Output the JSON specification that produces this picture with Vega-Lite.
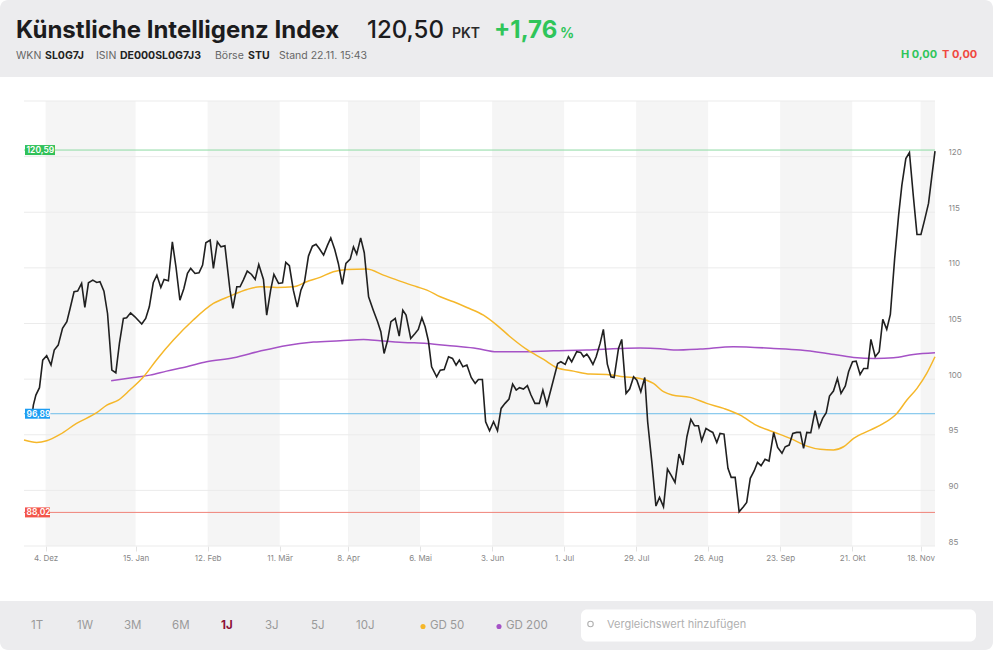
{
  "$schema": "https://vega.github.io/schema/vega-lite/v6.json",
  "width": 911,
  "height": 445,
  "autosize": {"type": "none"},
  "padding": {"left": 24, "top": 101, "right": 65, "bottom": 110},
  "background": "#ffffff",
  "config": {"view": {"stroke": null}, "font": "Inter", "text": {"font": "Inter"}},
  "datasets": {
    "bands": [{"i": 6, "i2": 31}, {"i": 51, "i2": 71}, {"i": 90, "i2": 110}, {"i": 130, "i2": 150}, {"i": 170, "i2": 190}, {"i": 210, "i2": 230}, {"i": 249, "i2": 253}],
    "grid": [{"g": 85}, {"g": 90}, {"g": 95}, {"g": 100}, {"g": 105}, {"g": 110}, {"g": 115}, {"g": 120}, {"g": 125}],
    "refs": [{"kind": "high", "v": 120.59, "label": "120,59"}, {"kind": "start", "v": 96.89, "label": "96,89"}, {"kind": "low", "v": 88.02, "label": "88,02"}],
    "price": [
      {"i":2.3,"v":96.89},{"i":2.6,"v":97.67},{"i":3.3,"v":98.57},{"i":4.3,"v":99.23},{"i":5.2,"v":101.71},{"i":6.3,"v":102.10},{"i":7.5,"v":101.26},{"i":8.4,"v":102.61},{"i":9.5,"v":103.06},{"i":10.7,"v":104.56},
      {"i":11.9,"v":105.16},{"i":12.8,"v":106.35},{"i":13.9,"v":107.85},{"i":14.9,"v":107.91},{"i":16.0,"v":108.60},{"i":16.9,"v":106.44},{"i":17.9,"v":108.66},{"i":19.1,"v":108.90},{"i":20.2,"v":108.69},{"i":21.1,"v":108.75},
      {"i":22.2,"v":107.91},{"i":23.2,"v":105.90},{"i":24.4,"v":100.81},{"i":25.5,"v":100.57},{"i":26.5,"v":103.21},{"i":27.6,"v":105.45},{"i":28.5,"v":105.51},{"i":29.6,"v":105.96},{"i":30.8,"v":105.60},{"i":32.7,"v":104.95},
      {"i":33.8,"v":105.45},{"i":34.8,"v":106.50},{"i":35.9,"v":108.66},{"i":36.9,"v":109.35},{"i":38.0,"v":108.24},{"i":38.9,"v":108.96},{"i":40.1,"v":108.84},{"i":41.2,"v":112.34},{"i":42.2,"v":110.10},{"i":43.3,"v":107.10},
      {"i":44.4,"v":108.15},{"i":45.4,"v":109.50},{"i":46.3,"v":109.95},{"i":47.5,"v":109.50},{"i":48.6,"v":109.56},{"i":49.6,"v":110.25},{"i":50.5,"v":112.25},{"i":51.7,"v":112.49},{"i":52.6,"v":109.95},{"i":53.7,"v":112.34},
      {"i":54.7,"v":111.89},{"i":55.8,"v":111.98},{"i":57.2,"v":108.00},{"i":58.0,"v":106.35},{"i":59.1,"v":108.30},{"i":60.0,"v":108.30},{"i":60.9,"v":108.90},{"i":62.0,"v":109.71},{"i":63.2,"v":109.41},{"i":64.2,"v":108.96},
      {"i":65.2,"v":110.31},{"i":66.5,"v":108.96},{"i":67.4,"v":105.75},{"i":68.5,"v":108.00},{"i":69.4,"v":109.41},{"i":70.7,"v":108.60},{"i":71.8,"v":108.66},{"i":72.7,"v":110.49},{"i":73.7,"v":110.19},{"i":74.8,"v":108.00},
      {"i":75.9,"v":106.47},{"i":76.9,"v":108.00},{"i":77.9,"v":108.75},{"i":79.0,"v":111.06},{"i":80.1,"v":111.95},{"i":81.1,"v":112.13},{"i":82.0,"v":111.74},{"i":83.2,"v":111.15},{"i":84.3,"v":112.04},{"i":85.2,"v":112.70},
      {"i":86.3,"v":111.65},{"i":87.3,"v":110.40},{"i":88.4,"v":108.51},{"i":89.4,"v":110.40},{"i":90.6,"v":110.79},{"i":91.5,"v":111.89},{"i":92.4,"v":111.24},{"i":93.5,"v":112.70},{"i":94.5,"v":111.36},{"i":95.7,"v":107.40},
      {"i":97.0,"v":106.20},{"i":98.2,"v":105.16},{"i":99.1,"v":104.26},{"i":100.0,"v":102.31},{"i":101.0,"v":103.51},{"i":101.9,"v":105.16},{"i":103.1,"v":105.45},{"i":104.2,"v":103.87},{"i":105.2,"v":106.20},{"i":106.1,"v":105.75},
      {"i":107.4,"v":103.66},{"i":108.6,"v":104.11},{"i":109.5,"v":104.47},{"i":110.5,"v":105.51},{"i":111.4,"v":104.71},{"i":112.3,"v":103.45},{"i":113.2,"v":101.11},{"i":114.6,"v":100.21},{"i":115.6,"v":100.81},{"i":116.7,"v":100.87},
      {"i":117.9,"v":102.01},{"i":119.0,"v":101.86},{"i":120.0,"v":101.26},{"i":120.9,"v":101.71},{"i":121.9,"v":101.11},{"i":123.0,"v":101.26},{"i":124.2,"v":100.15},{"i":125.3,"v":99.62},{"i":126.2,"v":99.97},{"i":127.3,"v":99.97},
      {"i":128.2,"v":96.17},{"i":129.3,"v":95.36},{"i":130.4,"v":96.17},{"i":131.5,"v":95.36},{"i":132.5,"v":97.37},{"i":133.6,"v":97.82},{"i":134.7,"v":98.21},{"i":135.7,"v":99.56},{"i":136.7,"v":99.02},{"i":137.6,"v":99.23},
      {"i":138.7,"v":99.11},{"i":139.8,"v":99.41},{"i":140.8,"v":98.57},{"i":141.9,"v":97.82},{"i":143.1,"v":97.82},{"i":144.1,"v":99.02},{"i":145.2,"v":97.67},{"i":146.3,"v":99.02},{"i":148.2,"v":101.41},{"i":149.1,"v":101.56},
      {"i":150.3,"v":101.32},{"i":151.2,"v":102.01},{"i":152.1,"v":101.56},{"i":153.5,"v":102.46},{"i":154.6,"v":102.40},{"i":155.4,"v":102.01},{"i":156.3,"v":102.25},{"i":157.0,"v":101.92},{"i":158.0,"v":101.32},{"i":158.9,"v":102.01},
      {"i":160.0,"v":103.21},{"i":160.9,"v":104.47},{"i":162.0,"v":101.35},{"i":163.0,"v":100.21},{"i":163.9,"v":100.15},{"i":165.1,"v":102.76},{"i":166.0,"v":103.57},{"i":167.2,"v":98.72},{"i":168.2,"v":99.11},{"i":169.3,"v":100.21},
      {"i":170.2,"v":99.91},{"i":171.3,"v":98.87},{"i":172.4,"v":100.15},{"i":173.2,"v":96.17},{"i":174.4,"v":92.43},{"i":175.5,"v":88.59},{"i":176.5,"v":89.37},{"i":177.6,"v":88.53},{"i":178.7,"v":91.92},{"i":179.7,"v":91.38},
      {"i":180.8,"v":90.72},{"i":181.9,"v":93.27},{"i":183.0,"v":92.28},{"i":184.1,"v":94.82},{"i":185.2,"v":96.38},{"i":186.2,"v":95.81},{"i":187.3,"v":95.81},{"i":188.2,"v":94.46},{"i":189.4,"v":95.57},{"i":190.4,"v":95.36},
      {"i":191.3,"v":95.21},{"i":192.4,"v":94.31},{"i":193.3,"v":95.12},{"i":194.4,"v":95.06},{"i":195.5,"v":91.98},{"i":196.4,"v":91.17},{"i":197.5,"v":91.17},{"i":198.6,"v":88.08},{"i":199.8,"v":88.53},{"i":200.7,"v":88.92},
      {"i":201.7,"v":91.08},{"i":202.8,"v":91.77},{"i":203.7,"v":92.52},{"i":204.7,"v":92.22},{"i":205.8,"v":92.79},{"i":206.9,"v":92.64},{"i":208.2,"v":95.21},{"i":209.3,"v":93.86},{"i":210.5,"v":93.33},{"i":211.4,"v":93.92},
      {"i":212.5,"v":94.07},{"i":213.5,"v":95.12},{"i":214.6,"v":95.21},{"i":215.6,"v":95.21},{"i":216.5,"v":93.78},{"i":217.4,"v":95.21},{"i":218.5,"v":95.18},{"i":219.7,"v":97.16},{"i":220.8,"v":95.66},{"i":221.8,"v":96.47},
      {"i":222.8,"v":96.98},{"i":223.7,"v":98.48},{"i":224.8,"v":98.93},{"i":225.9,"v":100.06},{"i":226.9,"v":98.72},{"i":228.1,"v":99.38},{"i":229.0,"v":100.66},{"i":230.1,"v":101.56},{"i":231.1,"v":101.62},{"i":232.2,"v":100.42},
      {"i":233.2,"v":100.96},{"i":234.3,"v":100.96},{"i":235.2,"v":103.57},{"i":236.4,"v":102.01},{"i":237.5,"v":102.46},{"i":238.5,"v":105.37},{"i":239.6,"v":104.47},{"i":240.6,"v":105.81},{"i":241.8,"v":110.85},{"i":242.9,"v":114.74},
      {"i":243.8,"v":117.43},{"i":244.9,"v":119.83},{"i":245.9,"v":120.37},{"i":247.0,"v":116.39},{"i":248.0,"v":113.00},{"i":249.1,"v":113.00},{"i":250.1,"v":114.29},{"i":251.2,"v":115.79},{"i":252.1,"v":118.18},{"i":253.0,"v":120.50}
    ],
    "gd50": [
      {"i":0,"v":94.52},{"i":3.5,"v":94.31},{"i":6.3,"v":94.46},{"i":10.0,"v":95.03},{"i":14.6,"v":96.02},{"i":20.2,"v":96.98},{"i":23.0,"v":97.67},{"i":26.2,"v":98.12},{"i":29.4,"v":99.02},{"i":33.2,"v":100.21},
      {"i":36.9,"v":101.77},{"i":41.5,"v":103.51},{"i":47.0,"v":105.31},{"i":52.6,"v":106.80},{"i":57.2,"v":107.46},{"i":61.9,"v":108.06},{"i":65.6,"v":108.30},{"i":70.2,"v":108.24},{"i":74.8,"v":108.30},{"i":78.5,"v":108.75},
      {"i":82.2,"v":109.15},{"i":85.9,"v":109.65},{"i":89.6,"v":109.86},{"i":95.2,"v":109.89},{"i":99.8,"v":109.35},{"i":104.4,"v":108.81},{"i":109.1,"v":108.30},{"i":111.9,"v":108.00},{"i":115.6,"v":107.40},{"i":119.3,"v":106.95},
      {"i":123.0,"v":106.44},{"i":127.6,"v":105.75},{"i":131.3,"v":104.86},{"i":135.0,"v":103.81},{"i":139.6,"v":102.67},{"i":144.3,"v":101.77},{"i":148.0,"v":101.02},{"i":152.6,"v":100.72},{"i":157.2,"v":100.45},{"i":161.9,"v":100.42},
      {"i":166.5,"v":100.21},{"i":171.1,"v":100.06},{"i":174.8,"v":99.62},{"i":177.6,"v":98.87},{"i":180.0,"v":98.57},{"i":185.0,"v":98.36},{"i":189.6,"v":97.82},{"i":194.3,"v":97.37},{"i":198.9,"v":96.77},{"i":203.3,"v":95.87},
      {"i":208.0,"v":95.27},{"i":212.8,"v":94.67},{"i":217.4,"v":93.98},{"i":221.1,"v":93.69},{"i":224.8,"v":93.63},{"i":227.6,"v":93.92},{"i":230.4,"v":94.67},{"i":235.0,"v":95.42},{"i":238.7,"v":96.02},{"i":242.4,"v":96.92},
      {"i":245.2,"v":98.12},{"i":248.0,"v":99.17},{"i":250.7,"v":100.51},{"i":253.0,"v":102.01}
    ],
    "gd200": [
      {"i":24.2,"v":99.85},{"i":30.4,"v":100.15},{"i":35.0,"v":100.36},{"i":39.6,"v":100.72},{"i":45.2,"v":101.11},{"i":50.7,"v":101.56},{"i":58.2,"v":101.92},{"i":65.6,"v":102.52},{"i":73.0,"v":103.03},{"i":80.4,"v":103.33},
      {"i":87.8,"v":103.45},{"i":94.3,"v":103.57},{"i":98.9,"v":103.45},{"i":105.4,"v":103.30},{"i":111.9,"v":103.21},{"i":119.3,"v":102.97},{"i":125.7,"v":102.76},{"i":131.3,"v":102.46},{"i":137.8,"v":102.46},{"i":147.0,"v":102.55},
      {"i":156.3,"v":102.61},{"i":165.6,"v":102.76},{"i":171.1,"v":102.80},{"i":176.7,"v":102.73},{"i":180.4,"v":102.61},{"i":187.8,"v":102.70},{"i":197.0,"v":102.91},{"i":208.2,"v":102.76},{"i":215.6,"v":102.61},{"i":223.0,"v":102.31},
      {"i":230.4,"v":101.95},{"i":236.3,"v":101.86},{"i":241.5,"v":101.92},{"i":247.0,"v":102.22},{"i":253.0,"v":102.37}
    ]
  },
  "layer": [
    {"data": {"values": [{}]}, "mark": {"type": "rect", "x": -24, "x2": 969, "y": -101, "y2": -24, "color": "#ececee", "cornerRadiusTopLeft": 8, "cornerRadiusTopRight": 8}, "encoding": {}},
    {"data": {"values": [{}]}, "mark": {"type": "rect", "x": -24, "x2": 969, "y": 500, "y2": 549, "color": "#ececee", "cornerRadiusBottomLeft": 8, "cornerRadiusBottomRight": 8}, "encoding": {}},
    {"data": {"values": [{}]}, "mark": {"type": "rule", "x": 968.5, "y": -24, "y2": 500, "color": "#e8e8e8", "strokeWidth": 1}, "encoding": {}},
    {"data": {"values": [{}]}, "mark": {"type": "rect", "x": 557, "x2": 952, "y": 508.5, "y2": 540.5, "color": "#ffffff", "cornerRadius": 6}, "encoding": {}},
    {"data": {"values": [{}]}, "mark": {"type": "point", "shape": "circle", "x": 566.5, "y": 523, "size": 30, "filled": false, "stroke": "#b0b0b0", "strokeWidth": 1.1, "opacity": 1}, "encoding": {}},
    {"data": {"values": [{}]}, "mark": {"type": "rule", "x": 569.5, "y": 526, "x2": 572.5, "y2": 529, "color": "#b0b0b0", "strokeWidth": 1.2}, "encoding": {}},
    {
      "data": {"name": "bands"},
      "mark": {"type": "rect", "color": "#f5f5f5"},
      "encoding": {
        "x": {"field": "i", "type": "quantitative", "title": null, "scale": {"domain": [0, 253], "nice": false, "zero": false},
          "axis": {"orient": "bottom", "title": null, "values": [6, 31, 51, 71, 90, 110, 130, 150, 170, 190, 210, 230, 249],
            "labelExpr": "['4. Dez','15. Jan','12. Feb','11. Mär','8. Apr','6. Mai','3. Jun','1. Jul','29. Jul','26. Aug','23. Sep','21. Okt','18. Nov'][indexof([6,31,51,71,90,110,130,150,170,190,210,230,249], datum.value)]",
            "domain": false, "grid": false, "ticks": true, "tickSize": 5, "tickColor": "#e2e2e2", "labelPadding": 3, "labelFontSize": 8, "labelColor": "#888888", "labelFont": "Inter", "labelFlush": false, "labelOverlap": false}},
        "x2": {"field": "i2"},
        "y": {"datum": 125, "type": "quantitative", "title": null, "scale": {"domain": [85, 125], "nice": false, "zero": false}},
        "y2": {"datum": 85}
      }
    },
    {
      "data": {"name": "grid"},
      "mark": {"type": "rule", "color": "#ebebeb", "strokeWidth": 1},
      "encoding": {
        "y": {"field": "g", "type": "quantitative", "title": null, "scale": {"domain": [85, 125], "nice": false, "zero": false},
          "axis": {"orient": "right", "title": null, "values": [85, 90, 95, 100, 105, 110, 115, 120, 125], "labelExpr": "datum.value == 125 ? '' : datum.label",
            "grid": false, "domain": false, "ticks": false, "tickSize": 0, "labelPadding": 13, "labelFontSize": 8, "labelColor": "#888888", "labelFont": "Inter",
            "labelBaseline": "alphabetic", "labelOffset": -2, "labelAlign": "left", "labelFlush": false, "labelOverlap": false}}
      }
    },
    {
      "data": {"name": "refs"},
      "mark": {"type": "rule", "strokeWidth": 1},
      "encoding": {
        "y": {"field": "v", "type": "quantitative", "title": null, "scale": {"domain": [85, 125], "nice": false, "zero": false}},
        "stroke": {"field": "kind", "type": "nominal", "scale": {"domain": ["high", "start", "low"], "range": ["#8cdaa2", "#6dbde9", "#f08278"]}, "legend": null}
      }
    },
    {
      "data": {"name": "gd200"},
      "mark": {"type": "line", "color": "#a552c6", "strokeWidth": 1.5, "interpolate": "monotone"},
      "encoding": {
        "x": {"field": "i", "type": "quantitative", "title": null, "scale": {"domain": [0, 253], "nice": false, "zero": false}},
        "y": {"field": "v", "type": "quantitative", "title": null, "scale": {"domain": [85, 125], "nice": false, "zero": false}}
      }
    },
    {
      "data": {"name": "gd50"},
      "mark": {"type": "line", "color": "#f5b72a", "strokeWidth": 1.5, "interpolate": "monotone"},
      "encoding": {
        "x": {"field": "i", "type": "quantitative", "title": null, "scale": {"domain": [0, 253], "nice": false, "zero": false}},
        "y": {"field": "v", "type": "quantitative", "title": null, "scale": {"domain": [85, 125], "nice": false, "zero": false}}
      }
    },
    {
      "data": {"name": "price"},
      "mark": {"type": "line", "color": "#202020", "strokeWidth": 1.6},
      "encoding": {
        "x": {"field": "i", "type": "quantitative", "title": null, "scale": {"domain": [0, 253], "nice": false, "zero": false}},
        "y": {"field": "v", "type": "quantitative", "title": null, "scale": {"domain": [85, 125], "nice": false, "zero": false}}
      }
    },
    {
      "data": {"name": "refs"},
      "transform": [{"filter": "datum.kind == 'high'"}],
      "mark": {"type": "rect", "x": 1, "x2": 31, "yOffset": -5, "y2Offset": 5},
      "encoding": {
        "y": {"field": "v", "type": "quantitative", "title": null, "scale": {"domain": [85, 125], "nice": false, "zero": false}},
        "y2": {"field": "v"},
        "fill": {"field": "kind", "type": "nominal", "scale": {"domain": ["high", "start", "low"], "range": ["#31c159", "#1d9df2", "#f3564a"]}, "legend": null}
      }
    },
    {
      "data": {"name": "refs"},
      "transform": [{"filter": "datum.kind != 'high'"}],
      "mark": {"type": "rect", "x": 1, "x2": 26, "yOffset": -5, "y2Offset": 5},
      "encoding": {
        "y": {"field": "v", "type": "quantitative", "title": null, "scale": {"domain": [85, 125], "nice": false, "zero": false}},
        "y2": {"field": "v"},
        "fill": {"field": "kind", "type": "nominal", "scale": {"domain": ["high", "start", "low"], "range": ["#31c159", "#1d9df2", "#f3564a"]}, "legend": null}
      }
    },
    {
      "data": {"name": "refs"},
      "mark": {"type": "text", "x": 2.5, "align": "left", "baseline": "middle", "fontSize": 8.5, "fontWeight": 600, "color": "#ffffff", "font": "Inter"},
      "encoding": {
        "y": {"field": "v", "type": "quantitative", "title": null, "scale": {"domain": [85, 125], "nice": false, "zero": false}},
        "text": {"field": "label"}
      }
    },
    {"data": {"values": [{}]}, "mark": {"type": "text", "text": "Künstliche Intelligenz Index", "x": -8, "y": -63, "align": "left", "baseline": "alphabetic", "fontSize": 24, "fontWeight": 700, "color": "#1c1c1e", "font": "Inter"}, "encoding": {}},
    {"data": {"values": [{}]}, "mark": {"type": "text", "text": "120,50", "x": 343, "y": -63, "align": "left", "baseline": "alphabetic", "fontSize": 24, "fontWeight": 500, "color": "#1c1c1e", "font": "Inter"}, "encoding": {}},
    {"data": {"values": [{}]}, "mark": {"type": "text", "text": "PKT", "x": 428, "y": -63, "align": "left", "baseline": "alphabetic", "fontSize": 14, "fontWeight": 600, "color": "#2a2a2a", "font": "Inter"}, "encoding": {}},
    {"data": {"values": [{}]}, "mark": {"type": "text", "text": "+1,76", "x": 470, "y": -63, "align": "left", "baseline": "alphabetic", "fontSize": 24, "fontWeight": 700, "color": "#2fc55a", "font": "Inter"}, "encoding": {}},
    {"data": {"values": [{}]}, "mark": {"type": "text", "text": "%", "x": 536, "y": -63, "align": "left", "baseline": "alphabetic", "fontSize": 14, "fontWeight": 700, "color": "#2fc55a", "font": "Inter"}, "encoding": {}},
    {"data": {"values": [{}]}, "mark": {"type": "text", "text": "WKN", "x": -8, "y": -42, "align": "left", "baseline": "alphabetic", "fontSize": 10.5, "fontWeight": 400, "color": "#666666", "font": "Inter"}, "encoding": {}},
    {"data": {"values": [{}]}, "mark": {"type": "text", "text": "SL0G7J", "x": 21, "y": -42, "align": "left", "baseline": "alphabetic", "fontSize": 10.5, "fontWeight": 700, "color": "#222222", "font": "Inter"}, "encoding": {}},
    {"data": {"values": [{}]}, "mark": {"type": "text", "text": "ISIN", "x": 72, "y": -42, "align": "left", "baseline": "alphabetic", "fontSize": 10.5, "fontWeight": 400, "color": "#666666", "font": "Inter"}, "encoding": {}},
    {"data": {"values": [{}]}, "mark": {"type": "text", "text": "DE000SL0G7J3", "x": 96, "y": -42, "align": "left", "baseline": "alphabetic", "fontSize": 10.5, "fontWeight": 700, "color": "#222222", "font": "Inter"}, "encoding": {}},
    {"data": {"values": [{}]}, "mark": {"type": "text", "text": "Börse", "x": 191, "y": -42, "align": "left", "baseline": "alphabetic", "fontSize": 10.5, "fontWeight": 400, "color": "#666666", "font": "Inter"}, "encoding": {}},
    {"data": {"values": [{}]}, "mark": {"type": "text", "text": "STU", "x": 224, "y": -42, "align": "left", "baseline": "alphabetic", "fontSize": 10.5, "fontWeight": 700, "color": "#222222", "font": "Inter"}, "encoding": {}},
    {"data": {"values": [{}]}, "mark": {"type": "text", "text": "Stand 22.11. 15:43", "x": 255, "y": -42, "align": "left", "baseline": "alphabetic", "fontSize": 10.5, "fontWeight": 400, "color": "#666666", "font": "Inter"}, "encoding": {}},
    {"data": {"values": [{}]}, "mark": {"type": "text", "text": "H 0,00", "x": 877, "y": -43, "align": "left", "baseline": "alphabetic", "fontSize": 11, "fontWeight": 700, "color": "#2fc55a", "font": "Inter"}, "encoding": {}},
    {"data": {"values": [{}]}, "mark": {"type": "text", "text": "T 0,00", "x": 918, "y": -43, "align": "left", "baseline": "alphabetic", "fontSize": 11, "fontWeight": 700, "color": "#f0483e", "font": "Inter"}, "encoding": {}},
    {"data": {"values": [{}]}, "mark": {"type": "text", "text": "1T", "x": 7, "y": 525, "align": "left", "baseline": "middle", "fontSize": 11.5, "color": "#9a9a9a", "font": "Inter"}, "encoding": {}},
    {"data": {"values": [{}]}, "mark": {"type": "text", "text": "1W", "x": 53, "y": 525, "align": "left", "baseline": "middle", "fontSize": 11.5, "color": "#9a9a9a", "font": "Inter"}, "encoding": {}},
    {"data": {"values": [{}]}, "mark": {"type": "text", "text": "3M", "x": 100, "y": 525, "align": "left", "baseline": "middle", "fontSize": 11.5, "color": "#9a9a9a", "font": "Inter"}, "encoding": {}},
    {"data": {"values": [{}]}, "mark": {"type": "text", "text": "6M", "x": 148, "y": 525, "align": "left", "baseline": "middle", "fontSize": 11.5, "color": "#9a9a9a", "font": "Inter"}, "encoding": {}},
    {"data": {"values": [{}]}, "mark": {"type": "text", "text": "1J", "x": 197, "y": 525, "align": "left", "baseline": "middle", "fontSize": 11.5, "fontWeight": 700, "color": "#8c1136", "font": "Inter"}, "encoding": {}},
    {"data": {"values": [{}]}, "mark": {"type": "text", "text": "3J", "x": 241, "y": 525, "align": "left", "baseline": "middle", "fontSize": 11.5, "color": "#9a9a9a", "font": "Inter"}, "encoding": {}},
    {"data": {"values": [{}]}, "mark": {"type": "text", "text": "5J", "x": 287, "y": 525, "align": "left", "baseline": "middle", "fontSize": 11.5, "color": "#9a9a9a", "font": "Inter"}, "encoding": {}},
    {"data": {"values": [{}]}, "mark": {"type": "text", "text": "10J", "x": 332, "y": 525, "align": "left", "baseline": "middle", "fontSize": 11.5, "color": "#9a9a9a", "font": "Inter"}, "encoding": {}},
    {"data": {"values": [{}]}, "mark": {"type": "point", "shape": "circle", "filled": true, "x": 399, "y": 525.5, "size": 26, "color": "#f5b72a", "opacity": 1}, "encoding": {}},
    {"data": {"values": [{}]}, "mark": {"type": "text", "text": "GD 50", "x": 406, "y": 525, "align": "left", "baseline": "middle", "fontSize": 11.5, "color": "#9a9a9a", "font": "Inter"}, "encoding": {}},
    {"data": {"values": [{}]}, "mark": {"type": "point", "shape": "circle", "filled": true, "x": 475, "y": 525.5, "size": 26, "color": "#a552c6", "opacity": 1}, "encoding": {}},
    {"data": {"values": [{}]}, "mark": {"type": "text", "text": "GD 200", "x": 482, "y": 525, "align": "left", "baseline": "middle", "fontSize": 11.5, "color": "#9a9a9a", "font": "Inter"}, "encoding": {}},
    {"data": {"values": [{}]}, "mark": {"type": "text", "text": "Vergleichswert hinzufügen", "x": 583, "y": 524, "align": "left", "baseline": "middle", "fontSize": 11, "color": "#b0b0b0", "font": "Inter"}, "encoding": {}}
  ]
}
